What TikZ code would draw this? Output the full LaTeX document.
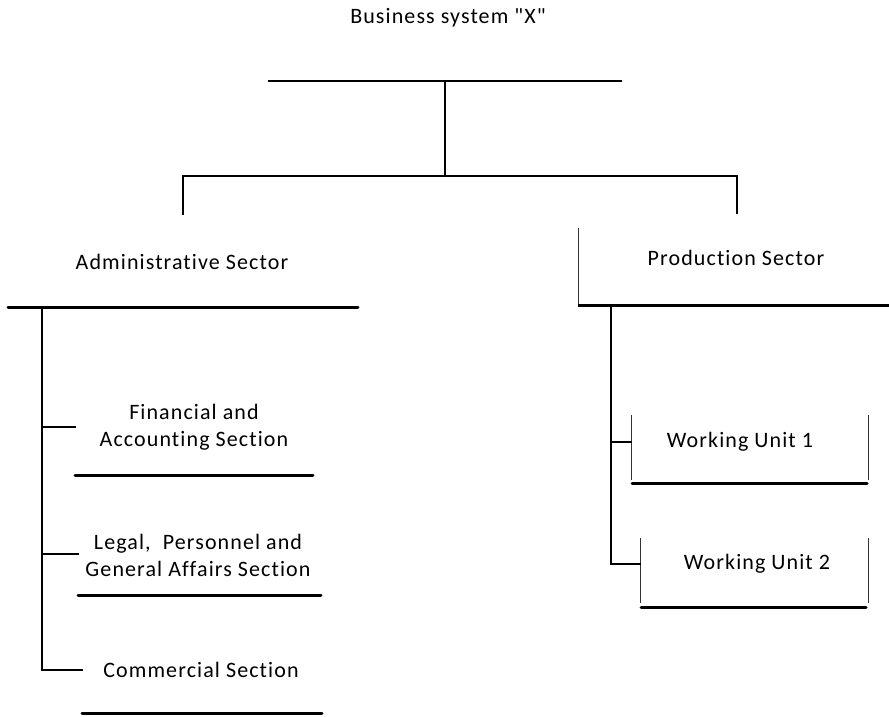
\documentclass[tikz,border=0pt]{standalone}
\usepackage{fontspec}
\newfontfamily\lblfont{Carlito}[Ligatures={NoCommon}, LetterSpace=5]
\begin{document}
\begin{tikzpicture}[x=1pt,y=-1pt,
  conn/.style={line width=1.6pt, line cap=rect},
  sideline/.style={line width=1pt, black!80},
  bar/.style={line width=3pt, line cap=round},
  lbl/.style={font=\lblfont\fontsize{22}{27}\selectfont, align=center, inner sep=0pt}]
\useasboundingbox (0,0) rectangle (889,716);
% texts
\node[lbl] (title) at (448,18) {Business system "X"};
\node[lbl] (adm) at (182,262) {Administrative Sector};
\node[lbl] (prod) at (736,258) {Production Sector};
\node[lbl] (fin) at (194,427) {Financial and\\Accounting Section};
\node[lbl] (leg) at (198,555) {Legal,\ \ Personnel and\\General Affairs Section};
\node[lbl] (com) at (201,670) {Commercial Section};
\node[lbl] (wu1) at (740,442) {Working Unit 1};
\node[lbl] (wu2) at (757,564) {Working Unit 2};
% coordinates
\coordinate (topL) at (268,81); \coordinate (topR) at (622,81);
\coordinate (topM) at (445,81); \coordinate (mid) at (445,176);
\coordinate (hL) at (183,176); \coordinate (hR) at (737,176);
\coordinate (aTop) at (183,214); \coordinate (pTop) at (737,213);
\coordinate (admL) at (8,307); \coordinate (admR) at (358,307);
\coordinate (admV) at (42,307); \coordinate (admE) at (42,670);
\coordinate (finL) at (75,475); \coordinate (finR) at (313,475);
\coordinate (legL) at (78,595); \coordinate (legR) at (321,595);
\coordinate (comL) at (82,713); \coordinate (comR) at (322,713);
\coordinate (prTL) at (578,228); \coordinate (prBL) at (578,305);
\coordinate (prBR) at (889,305);
\coordinate (prV) at (611,305); \coordinate (prE) at (611,564);
% top tree
\draw[line width=2pt] (topL) -- (topR);
\draw[conn] (topM) -- (mid);
\draw[conn] (hL) -- (hR);
\draw[conn] (hL) -- (aTop);
\draw[conn] (hR) -- (pTop);
% administrative sector
\draw[bar] (admL) -- (admR);
\draw[conn] (admV) -- (admE);
\draw[conn] (42,427) -- (finL |- 42,427);
\draw[conn] (42,554) -- (legL |- 42,554);
\draw[conn] (admE) -- (comL |- admE);
\draw[bar] (finL) -- (finR);
\draw[bar] (legL) -- (legR);
\draw[bar] (comL) -- (comR);
% production sector
\draw[sideline] (prTL) -- (prBL);
\draw[bar, line cap=butt] (prBL) -- (prBR);
\draw[conn] (prV) -- (prE);
% working unit 1
\draw[sideline] (631,415) -- (631,480);
\draw[sideline] (868,415) -- (868,480);
\draw[bar] (632,483) -- (867,483);
\draw[conn] (611,442) -- (631,442);
% working unit 2
\draw[sideline] (640,538) -- (640,603);
\draw[sideline] (868,538) -- (868,603);
\draw[bar] (641,607) -- (866,607);
\draw[conn] (prE) -- (640,564);
\end{tikzpicture}
\end{document}
